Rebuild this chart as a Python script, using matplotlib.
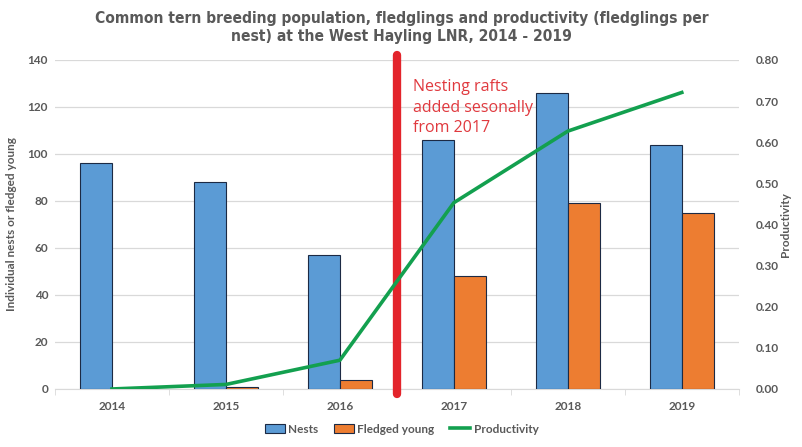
import matplotlib.pyplot as plt
import numpy as np

years = ["2014", "2015", "2016", "2017", "2018", "2019"]
nests = [96, 88, 57, 106, 126, 104]
fledged = [0, 1, 4, 48, 79, 75]
productivity = [0.0, 0.011, 0.07, 0.453, 0.627, 0.721]

grey = "#595959"
plt.rcParams['font.family'] = ['Lato', 'DejaVu Sans']

fig = plt.figure(figsize=(8.03, 4.47), dpi=100)
ax = fig.add_axes([0.0685, 0.1298, 0.8515, 0.736])
ax2 = ax.twinx()

x = np.arange(len(years))
w = 0.28
ax.bar(x - w/2, nests, w, color="#5b9bd5", edgecolor="#1c2a44", linewidth=0.8, label="Nests", zorder=3)
ax.bar(x + w/2, fledged, w, color="#ed7d31", edgecolor="#1c2a44", linewidth=0.8, label="Fledged young", zorder=3)
ax2.plot(x, productivity, color="#13a04f", lw=2.6, label="Productivity", zorder=4)

ax.set_xlim(-0.5, 5.5)
ax.set_ylim(0, 140)
ax.set_yticks(range(0, 141, 20))
ax2.set_ylim(0, 0.8)
ax2.set_yticks(np.arange(0, 0.81, 0.1))
ax2.set_yticklabels([f"{v:.2f}" for v in np.arange(0, 0.81, 0.1)])
ax.set_xticks(x)
ax.set_xticklabels(years)
ax.set_xticks(np.arange(-0.5, 5.6, 1), minor=True)

ax.grid(axis="y", color="#d9d9d9", lw=0.9, zorder=0)
for a in (ax, ax2):
    for s in a.spines.values():
        s.set_visible(False)
    a.tick_params(axis="y", length=0, labelsize=8.5, labelcolor=grey, pad=5)
    for lab in a.get_yticklabels():
        lab.set_fontweight("bold")
ax2.tick_params(axis="y", pad=12)
ax.spines["bottom"].set_visible(True)
ax.spines["bottom"].set_color("#d9d9d9")
ax.tick_params(axis="x", which="major", length=0, labelsize=8.5, labelcolor=grey, pad=9)
ax.tick_params(axis="x", which="minor", length=4, color="#d9d9d9")
for lab in ax.get_xticklabels():
    lab.set_fontweight("bold")

ax.set_ylabel("Individual nests or fledged young", fontsize=8.5, color=grey, fontweight="bold", labelpad=8)
ax2.set_ylabel("Productivity", fontsize=8.5, color=grey, fontweight="bold", labelpad=1)

# red divider between 2016 and 2017
ax.plot([2.5, 2.5], [-2, 142], color="#e3242b", lw=6, solid_capstyle="round", clip_on=False, zorder=5)
ax.text(2.64, 132, "Nesting rafts\nadded sesonally\nfrom 2017", color="#e0393e", fontsize=11.5,
        va="top", ha="left", linespacing=1.4, family=['Open Sans', 'DejaVu Sans'], zorder=6)

fig.suptitle("Common tern breeding population, fledglings and productivity (fledglings per\n"
             "nest) at the West Hayling LNR, 2014 - 2019",
             fontsize=11.2, fontweight="bold", color=grey, y=0.975, fontstretch="condensed",
             family=['DejaVu Sans'])

h1, l1 = ax.get_legend_handles_labels()
h2, l2 = ax2.get_legend_handles_labels()
leg = fig.legend(h1 + h2, l1 + l2, loc="center", bbox_to_anchor=(0.5, 0.04), ncol=3, frameon=False,
                 fontsize=8.5, handlelength=1.7, handleheight=0.7, columnspacing=1.3, handletextpad=0.3)
for t in leg.get_texts():
    t.set_color(grey)
    t.set_fontweight("bold")

fig.savefig("out.png", dpi=100)
